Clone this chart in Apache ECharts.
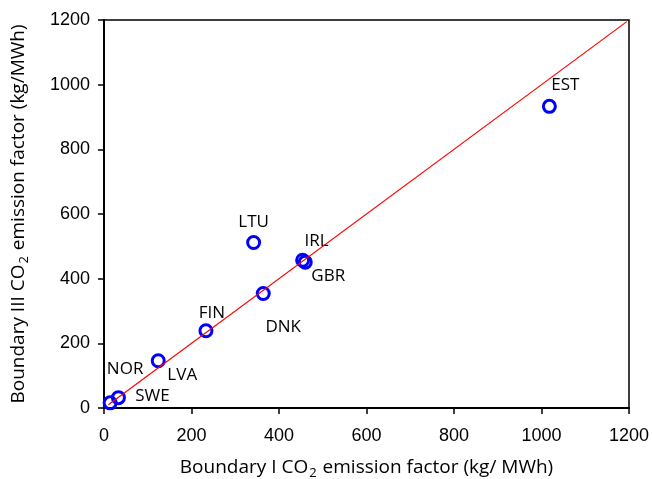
<!DOCTYPE html>
<html>
<head>
<meta charset="utf-8">
<script src="https://cdn.jsdelivr.net/npm/echarts@6/dist/echarts.min.js"></script>
<style>
    html, body {margin: 0; padding: 0; background: #fff;}
    #chart {width: 652px; height: 479px;}
</style>
</head>
<body>
<div id="chart"></div>
<script>
// countries and their emission factors (kg/MWh)
var countries = ['EST', 'LTU', 'IRL', 'GBR', 'DNK', 'FIN', 'LVA', 'SWE', 'NOR'];
var boundary1 = [1018, 342, 454, 460, 364, 233, 124, 33, 14];
var boundary3 = [933, 512, 457, 451, 354, 239, 146, 32, 16];

// 1:1 reference line
var lineX = [10, 1195];
var lineY = [10, 1195];

var axisTicks = [0, 200, 400, 600, 800, 1000, 1200];

// where each name sits relative to its marker (px)
var labelOffset = {
    EST: [16, -21], LTU: [0, -20], IRL: [14, -19], GBR: [23, 14], DNK: [20, 34],
    FIN: [6, -18], LVA: [24, 14], SWE: [34, -1], NOR: [15, -34]
};

var points = [];
for (var i = 0; i < countries.length; i++) {
    points.push({
        value: [boundary1[i], boundary3[i]],
        name: countries[i],
        label: {offset: labelOffset[countries[i]]}
    });
}
var linePts = [];
for (var j = 0; j < lineX.length; j++) {
    linePts.push([lineX[j], lineY[j]]);
}

var titleRich = {
    a: {fontFamily: 'Open Sans', fontSize: 19, color: '#000', lineHeight: 26},
    s: {fontFamily: 'Open Sans', fontSize: 13, color: '#000', lineHeight: 26, padding: [10, 1, 0, 1]}
};

var axisCommon = {
    type: 'value',
    min: axisTicks[0],
    max: axisTicks[axisTicks.length - 1],
    interval: axisTicks[1] - axisTicks[0],
    nameLocation: 'middle',
    axisLine: {show: true, onZero: false, lineStyle: {color: '#000', width: 2}},
    axisTick: {show: true, inside: false, length: 6, lineStyle: {color: '#000', width: 1.5}},
    axisLabel: {
        fontFamily: 'Liberation Sans', fontSize: 18, color: '#000',
        formatter: function (v) { return String(v); }
    },
    splitLine: {show: false}
};

var chart = echarts.init(document.getElementById('chart'));
var option = {
    animation: false,
    grid: {
        left: 104, right: 23, top: 20, bottom: 71,
        containLabel: false, outerBoundsMode: 'none',
        show: true, borderColor: '#000', borderWidth: 1.5
    },
    xAxis: Object.assign({}, axisCommon, {
        name: '{a|Boundary I CO}{s|2}{a| emission factor (kg/ MWh)}',
        nameGap: 47,
        nameTextStyle: {rich: titleRich},
        axisLabel: Object.assign({}, axisCommon.axisLabel, {margin: 19})
    }),
    yAxis: Object.assign({}, axisCommon, {
        name: '{a|Boundary III CO}{s|2}{a| emission factor (kg/MWh)}',
        nameGap: 72,
        nameTextStyle: {rich: titleRich},
        axisLabel: Object.assign({}, axisCommon.axisLabel, {margin: 14})
    }),
    series: [
        {
            type: 'scatter',
            data: points,
            symbol: 'circle',
            symbolSize: 12,
            itemStyle: {color: 'rgba(0,0,0,0)', borderColor: '#0000ff', borderWidth: 3, opacity: 1},
            label: {
                show: true,
                position: 'inside',
                formatter: '{b}',
                fontFamily: 'Open Sans',
                fontSize: 17,
                color: '#000',
                textBorderWidth: 0
            },
            z: 2
        },
        {
            type: 'line',
            data: linePts,
            symbol: 'none',
            lineStyle: {color: '#ff0000', width: 1.2},
            z: 3
        }
    ]
};
chart.setOption(option);
</script>
</body>
</html>
